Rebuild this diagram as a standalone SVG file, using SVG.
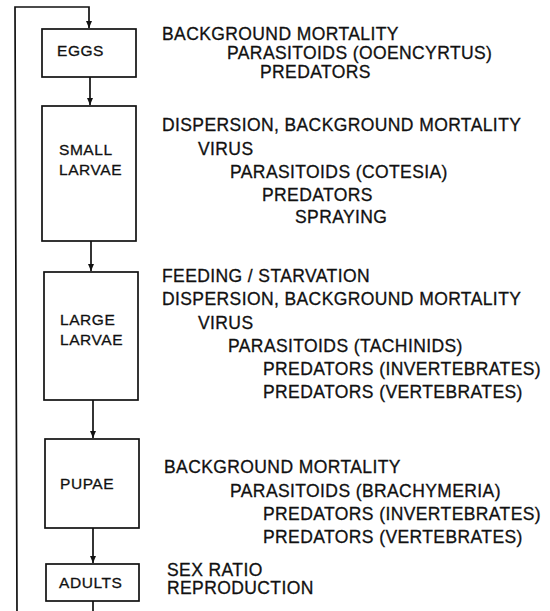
<svg xmlns="http://www.w3.org/2000/svg" width="550" height="611" viewBox="0 0 550 611">
<style>
.box{fill:#fff;stroke:#111;stroke-width:1.7}
.bt{font-family:"Liberation Sans",Arial,sans-serif;font-size:15.5px;letter-spacing:0.55px;fill:#111;stroke:#111;stroke-width:0.3}
.rt{font-family:"Liberation Sans",Arial,sans-serif;font-size:17.5px;letter-spacing:0.4px;fill:#111;stroke:#111;stroke-width:0.3}
.ln{fill:none;stroke:#111;stroke-width:1.7}
</style>
<defs>
<marker id="ah" markerUnits="userSpaceOnUse" markerWidth="8" markerHeight="8" refX="7" refY="3" orient="auto">
<path d="M0,0 L7,3 L0,6 z" fill="#111"/>
</marker>
</defs>
<rect width="550" height="611" fill="#fff"/>
<g id="connectors">
<path class="ln" d="M17,611 L15,7 L89,7 L89,28" marker-end="url(#ah)"/>
<path class="ln" d="M90,77 L90,105" marker-end="url(#ah)"/>
<path class="ln" d="M91,241 L91,271" marker-end="url(#ah)"/>
<path class="ln" d="M93,400 L93,438" marker-end="url(#ah)"/>
<path class="ln" d="M93,528 L93,563" marker-end="url(#ah)"/>
<path class="ln" d="M93,601 L93,611"/>
</g>
<g id="eggs">
<rect class="box" x="42" y="29" width="94" height="48"/>
<text class="bt" x="57" y="56">EGGS</text>
<text class="rt" x="162" y="40">BACKGROUND MORTALITY</text>
<text class="rt" x="227" y="59">PARASITOIDS (OOENCYRTUS)</text>
<text class="rt" x="260" y="78">PREDATORS</text>
</g>
<g id="small-larvae">
<rect class="box" x="42" y="106" width="94" height="135"/>
<text class="bt" x="59" y="155">SMALL</text>
<text class="bt" x="59" y="175">LARVAE</text>
<text class="rt" x="162" y="131">DISPERSION, BACKGROUND MORTALITY</text>
<text class="rt" x="198" y="155">VIRUS</text>
<text class="rt" x="230" y="178">PARASITOIDS (COTESIA)</text>
<text class="rt" x="262" y="201">PREDATORS</text>
<text class="rt" x="295" y="223">SPRAYING</text>
</g>
<g id="large-larvae">
<rect class="box" x="44" y="272" width="94" height="128"/>
<text class="bt" x="60" y="325">LARGE</text>
<text class="bt" x="60" y="345">LARVAE</text>
<text class="rt" x="162" y="282">FEEDING / STARVATION</text>
<text class="rt" x="162" y="305">DISPERSION, BACKGROUND MORTALITY</text>
<text class="rt" x="198" y="329">VIRUS</text>
<text class="rt" x="228" y="352">PARASITOIDS (TACHINIDS)</text>
<text class="rt" x="263" y="375">PREDATORS (INVERTEBRATES)</text>
<text class="rt" x="263" y="398">PREDATORS (VERTEBRATES)</text>
</g>
<g id="pupae">
<rect class="box" x="45" y="439" width="94" height="89"/>
<text class="bt" x="60" y="489">PUPAE</text>
<text class="rt" x="164" y="473">BACKGROUND MORTALITY</text>
<text class="rt" x="230" y="497">PARASITOIDS (BRACHYMERIA)</text>
<text class="rt" x="263" y="520">PREDATORS (INVERTEBRATES)</text>
<text class="rt" x="263" y="543">PREDATORS (VERTEBRATES)</text>
</g>
<g id="adults">
<rect class="box" x="46" y="564" width="93" height="37"/>
<text class="bt" x="59" y="588">ADULTS</text>
<text class="rt" x="167" y="576">SEX RATIO</text>
<text class="rt" x="167" y="594">REPRODUCTION</text>
</g>
</svg>
